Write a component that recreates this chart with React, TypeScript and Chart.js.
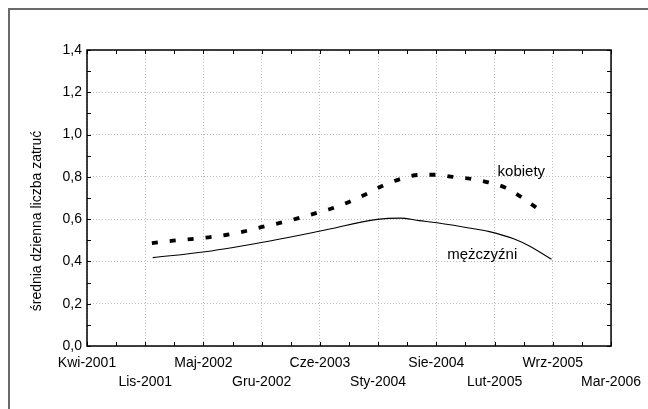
import React, { useEffect, useRef } from 'react';
import { Chart, registerables } from 'chart.js';

Chart.register(...registerables);

// Tick labels (x axis runs in months from Kwi-2001 = 0 to Mar-2006 = 59)
const xTickLabels = ['Kwi-2001', 'Lis-2001', 'Maj-2002', 'Gru-2002', 'Cze-2003', 'Sty-2004', 'Sie-2004', 'Lut-2005', 'Wrz-2005', 'Mar-2006'];
const xMaxMonths = 59;
const yTickMin = 0;
const yTickMax = 1.4;
const yTickStep = 0.2;

// kobiety (women)
const womenMonths = [7.3, 9.7, 11.7, 13.7, 15.6, 17.6, 19.6, 21.5, 23.5, 25.4, 27.4, 29.3, 31.4, 33.3, 35.3, 37.3, 39.3, 41.2, 43.3, 45.2, 47.1, 49.1, 51.2];
const womenValues = [0.487, 0.498, 0.506, 0.514, 0.525, 0.541, 0.562, 0.58, 0.601, 0.624, 0.648, 0.678, 0.718, 0.758, 0.79, 0.809, 0.81, 0.8, 0.79, 0.774, 0.749, 0.699, 0.635];

// mężczyźni (men)
const menMonths = [7.4, 13.3, 20.6, 26.4, 32.7, 35.2, 37.4, 39.4, 43.9, 45.3, 48.1, 49.8, 52.3];
const menValues = [0.418, 0.446, 0.497, 0.545, 0.599, 0.605, 0.593, 0.583, 0.552, 0.541, 0.506, 0.473, 0.41];

const seriesNames = ['kobiety', 'mężczyźni'];
const seriesLabelPos = [
  { x: 48.9, y: 0.823 },
  { x: 44.5, y: 0.43 },
];
const yTitle = 'średnia dzienna liczba zatruć';

const FONT = '"Liberation Sans", Arial, sans-serif';

const framePlugin = {
  id: 'framePlugin',
  beforeDraw(chart: any) {
    const ctx = chart.ctx;
    ctx.save();
    ctx.fillStyle = '#fff';
    ctx.fillRect(0, 0, chart.width, chart.height);
    ctx.strokeStyle = '#6a6a6a';
    ctx.lineWidth = 2;
    ctx.beginPath();
    ctx.moveTo(9, chart.height);
    ctx.lineTo(9, 9);
    ctx.lineTo(chart.width, 9);
    ctx.stroke();
    ctx.restore();
  },
  afterDraw(chart: any) {
    const ctx = chart.ctx;
    const { left, right, top, bottom } = chart.chartArea;
    const xs = chart.scales.x;
    const ys = chart.scales.y;
    ctx.save();
    ctx.strokeStyle = '#000';
    ctx.lineWidth = 1.5;
    ctx.strokeRect(left, top, right - left, bottom - top);
    ctx.lineWidth = 1;
    ctx.beginPath();
    for (let k = 0; k <= 18; k++) {
      const px = Math.round(xs.getPixelForValue((k * xMaxMonths) / 18)) + 0.5;
      ctx.moveTo(px, bottom);
      ctx.lineTo(px, bottom - 4);
      ctx.moveTo(px, top);
      ctx.lineTo(px, top + 4);
    }
    for (let k = 0; k <= 14; k++) {
      const py = Math.round(ys.getPixelForValue(k * 0.1)) + 0.5;
      ctx.moveTo(left, py);
      ctx.lineTo(left + 4, py);
      ctx.moveTo(right, py);
      ctx.lineTo(right - 4, py);
    }
    ctx.stroke();

    ctx.fillStyle = '#000';
    ctx.font = `15px ${FONT}`;
    ctx.textAlign = 'center';
    ctx.textBaseline = 'middle';
    seriesNames.forEach((name, i) => {
      ctx.fillText(name, xs.getPixelForValue(seriesLabelPos[i].x), ys.getPixelForValue(seriesLabelPos[i].y));
    });

    ctx.font = `14px ${FONT}`;
    ctx.translate(37, 221);
    ctx.rotate(-Math.PI / 2);
    ctx.fillText(yTitle, 0, 0);
    ctx.restore();
  },
};

export default function App() {
  const ref = useRef<HTMLCanvasElement | null>(null);

  useEffect(() => {
    if (!ref.current) return;
    const tickFont = { family: FONT, size: 14, lineHeight: 1.4 };
    const chart = new Chart(ref.current, {
      type: 'line',
      data: {
        datasets: [
          {
            label: seriesNames[0],
            data: womenMonths.map((m, i) => ({ x: m, y: womenValues[i] })),
            borderColor: '#000',
            borderWidth: 3.8,
            borderDash: [6, 12],
            borderCapStyle: 'butt',
            pointRadius: 0,
            cubicInterpolationMode: 'monotone',
            fill: false,
          },
          {
            label: seriesNames[1],
            data: menMonths.map((m, i) => ({ x: m, y: menValues[i] })),
            borderColor: '#000',
            borderWidth: 1.1,
            pointRadius: 0,
            cubicInterpolationMode: 'monotone',
            fill: false,
          },
        ],
      },
      options: {
        animation: false,
        responsive: false,
        layout: { padding: { left: 0, top: 50, right: 36, bottom: 0 } },
        plugins: { legend: { display: false }, tooltip: { enabled: false } },
        scales: {
          x: {
            type: 'linear',
            min: 0,
            max: xMaxMonths,
            afterBuildTicks: (s: any) => {
              s.ticks = xTickLabels.map((_, i) => ({ value: (i * xMaxMonths) / 9 }));
            },
            afterFit: (s: any) => {
              s.height = 63;
            },
            ticks: {
              autoSkip: false,
              maxRotation: 0,
              minRotation: 0,
              padding: 7,
              color: '#000',
              font: tickFont,
              callback: (_v: any, i: number) => (i % 2 === 0 ? xTickLabels[i] : ['', xTickLabels[i]]),
            },
            grid: { color: '#bdbdbd', lineWidth: 1, drawTicks: false },
            border: { display: false, dash: [1, 2] },
          },
          y: {
            min: yTickMin,
            max: yTickMax,
            afterFit: (s: any) => {
              s.width = 87;
            },
            ticks: {
              stepSize: yTickStep,
              padding: 5,
              color: '#000',
              font: { family: FONT, size: 14 },
              callback: (v: any) => Number(v).toFixed(1).replace('.', ','),
            },
            grid: { color: '#bdbdbd', lineWidth: 1, drawTicks: false },
            border: { display: false, dash: [1, 2] },
          },
        },
      },
      plugins: [framePlugin],
    } as any);
    return () => chart.destroy();
  }, []);

  return (
    <div style={{ position: 'fixed', left: 0, top: 0, width: 648, height: 409, overflow: 'hidden', background: '#fff' }}>
      <canvas ref={ref} width={648} height={409} style={{ width: 648, height: 409, display: 'block' }} />
    </div>
  );
}
